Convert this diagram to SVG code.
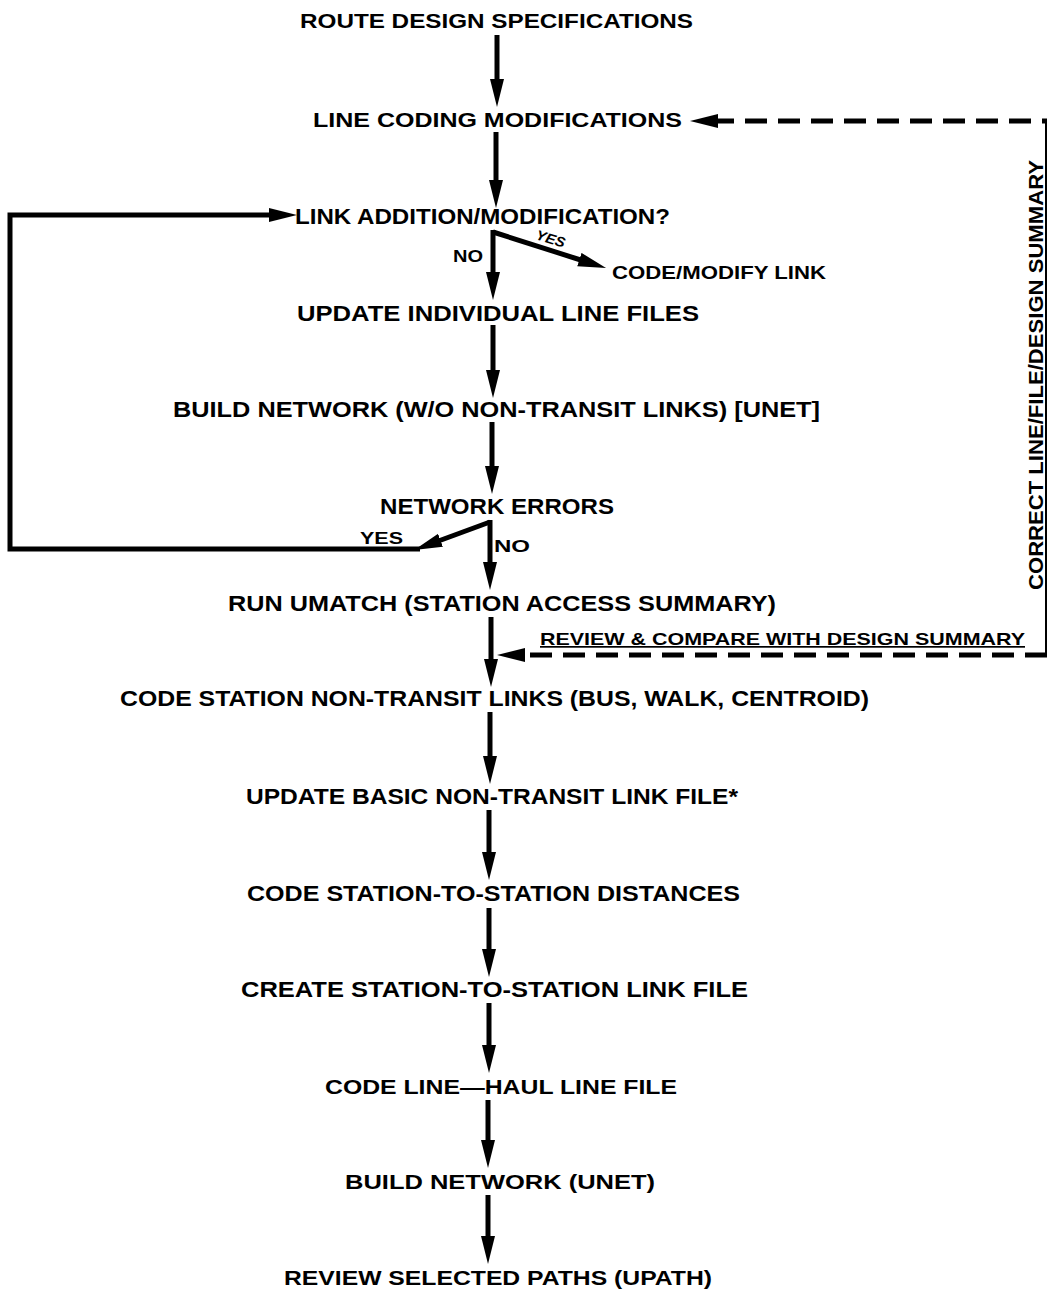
<svg xmlns="http://www.w3.org/2000/svg" width="1047" height="1291" viewBox="0 0 1047 1291">
<style>
.t{font-family:"Liberation Sans",Arial,sans-serif;font-weight:bold;fill:#000;text-anchor:start}
.s{stroke:#000;stroke-width:5;fill:none}
.d{stroke:#000;stroke-width:5;fill:none;stroke-dasharray:22 11}
</style>
<defs>
<marker id="ah" markerUnits="userSpaceOnUse" markerWidth="30" markerHeight="16" refX="8" refY="7" orient="auto" viewBox="0 0 30 16">
<path d="M0,0 L28,7 L0,14 Z" fill="#000"/>
</marker>
</defs>
<rect width="1047" height="1291" fill="#fff"/>
<g id="connectors">
<line class="s" x1="497" y1="35" x2="497" y2="87" marker-end="url(#ah)"/>
<line class="s" x1="496" y1="132" x2="496" y2="188" marker-end="url(#ah)"/>
<line class="s" x1="493" y1="230" x2="493" y2="280" marker-end="url(#ah)"/>
<path class="s" d="M493,232 L587,262" marker-end="url(#ah)"/>
<line class="s" x1="493" y1="325" x2="493" y2="378" marker-end="url(#ah)"/>
<line class="s" x1="492" y1="422" x2="492" y2="474" marker-end="url(#ah)"/>
<line class="s" x1="490" y1="520" x2="490" y2="570" marker-end="url(#ah)"/>
<path class="s" d="M490,522 L433,543" marker-end="url(#ah)"/>
<polyline class="s" points="420,549 10,549 10,215 277,215" marker-end="url(#ah)"/>
<line class="s" x1="491" y1="617" x2="491" y2="667" marker-end="url(#ah)"/>
<line class="s" x1="490" y1="712" x2="490" y2="764" marker-end="url(#ah)"/>
<line class="s" x1="489" y1="810" x2="489" y2="860" marker-end="url(#ah)"/>
<line class="s" x1="489" y1="908" x2="489" y2="957" marker-end="url(#ah)"/>
<line class="s" x1="489" y1="1003" x2="489" y2="1053" marker-end="url(#ah)"/>
<line class="s" x1="488" y1="1100" x2="488" y2="1148" marker-end="url(#ah)"/>
<line class="s" x1="488" y1="1195" x2="488" y2="1244" marker-end="url(#ah)"/>
<path class="d" d="M712,121 L1047,121"/>
<line x1="1046.5" y1="121" x2="1046.5" y2="655" stroke="#000" stroke-width="3"/>
<line class="s" x1="716" y1="121" x2="710" y2="121" marker-end="url(#ah)"/>
<path class="d" d="M1047,655 L520,655"/>
<line class="s" x1="523" y1="655" x2="517" y2="655" marker-end="url(#ah)"/>
</g>
<g id="n1"><text class="t" x="300" y="28" font-size="21" textLength="393" lengthAdjust="spacingAndGlyphs">ROUTE DESIGN SPECIFICATIONS</text></g>
<g id="n2"><text class="t" x="313" y="127" font-size="21" textLength="369" lengthAdjust="spacingAndGlyphs">LINE CODING MODIFICATIONS</text></g>
<g id="n3"><text class="t" x="295" y="224" font-size="22" textLength="375" lengthAdjust="spacingAndGlyphs">LINK ADDITION/MODIFICATION?</text></g>
<g id="l1"><text class="t" x="453" y="262" font-size="16" textLength="30" lengthAdjust="spacingAndGlyphs">NO</text>
<text class="t" x="535" y="239" font-size="14" font-style="italic" transform="rotate(17 535 239)" textLength="30" lengthAdjust="spacingAndGlyphs">YES</text></g>
<g id="n4"><text class="t" x="612" y="279" font-size="19" textLength="214" lengthAdjust="spacingAndGlyphs">CODE/MODIFY LINK</text></g>
<g id="n5"><text class="t" x="297" y="321" font-size="22" textLength="402" lengthAdjust="spacingAndGlyphs">UPDATE INDIVIDUAL LINE FILES</text></g>
<g id="n6"><text class="t" x="173" y="417" font-size="22" textLength="647" lengthAdjust="spacingAndGlyphs">BUILD NETWORK (W/O NON-TRANSIT LINKS) [UNET]</text></g>
<g id="n7"><text class="t" x="380" y="514" font-size="22" textLength="234" lengthAdjust="spacingAndGlyphs">NETWORK ERRORS</text></g>
<g id="l2"><text class="t" x="360" y="544" font-size="16" textLength="43" lengthAdjust="spacingAndGlyphs">YES</text>
<text class="t" x="494" y="552" font-size="16" textLength="36" lengthAdjust="spacingAndGlyphs">NO</text></g>
<g id="n8"><text class="t" x="228" y="611" font-size="22" textLength="548" lengthAdjust="spacingAndGlyphs">RUN UMATCH (STATION ACCESS SUMMARY)</text></g>
<g id="l3"><text class="t" x="540" y="645" font-size="17" text-decoration="underline" textLength="485" lengthAdjust="spacingAndGlyphs">REVIEW &amp; COMPARE WITH DESIGN SUMMARY</text></g>
<g id="n9"><text class="t" x="120" y="706" font-size="22" textLength="749" lengthAdjust="spacingAndGlyphs">CODE STATION NON-TRANSIT LINKS (BUS, WALK, CENTROID)</text></g>
<g id="n10"><text class="t" x="246" y="804" font-size="22" textLength="492" lengthAdjust="spacingAndGlyphs">UPDATE BASIC NON-TRANSIT LINK FILE*</text></g>
<g id="n11"><text class="t" x="247" y="901" font-size="22" textLength="493" lengthAdjust="spacingAndGlyphs">CODE STATION-TO-STATION DISTANCES</text></g>
<g id="n12"><text class="t" x="241" y="997" font-size="22" textLength="507" lengthAdjust="spacingAndGlyphs">CREATE STATION-TO-STATION LINK FILE</text></g>
<g id="n13"><text class="t" x="325" y="1094" font-size="21" textLength="352" lengthAdjust="spacingAndGlyphs">CODE LINE—HAUL LINE FILE</text></g>
<g id="n14"><text class="t" x="345" y="1189" font-size="21" textLength="310" lengthAdjust="spacingAndGlyphs">BUILD NETWORK (UNET)</text></g>
<g id="n15"><text class="t" x="284" y="1285" font-size="21" textLength="428" lengthAdjust="spacingAndGlyphs">REVIEW SELECTED PATHS (UPATH)</text></g>
<g id="l4"><text class="t" x="1043" y="590" font-size="21" transform="rotate(-90 1043 590)" textLength="430" lengthAdjust="spacingAndGlyphs">CORRECT LINE/FILE/DESIGN SUMMARY</text></g>
</svg>
